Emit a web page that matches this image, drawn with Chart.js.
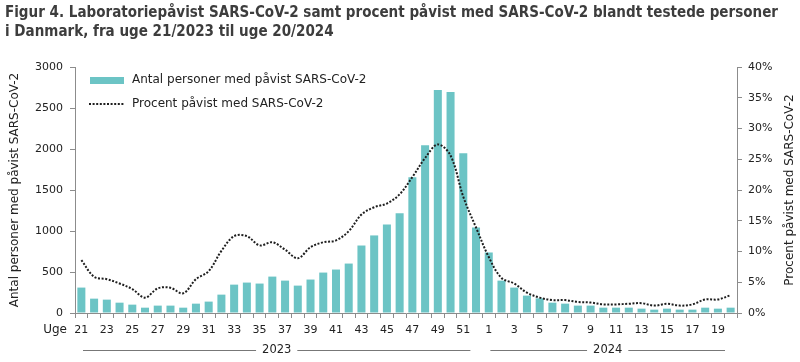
<!DOCTYPE html>
<html>
<head>
<meta charset="utf-8">
<script src="https://cdn.jsdelivr.net/npm/chart.js@4"></script>
<style>
  body { margin: 0; background: #fff; }
  #wrap { width: 800px; height: 362px; }
</style>
</head>
<body>
<div id="wrap"><canvas id="myChart" width="800" height="362"></canvas></div>
<script>
// uge 21-52 i 2023, uge 1-20 i 2024
const weeks2023 = ['21','22','23','24','25','26','27','28','29','30','31','32','33','34','35','36',
  '37','38','39','40','41','42','43','44','45','46','47','48','49','50','51','52'];
const weeks2024 = ['1','2','3','4','5','6','7','8','9','10','11','12','13','14','15','16','17','18','19','20'];
const labels = weeks2023.concat(weeks2024);

const positive = [310, 175, 163, 126, 102, 65, 90, 90, 65, 114, 139, 224, 346, 371, 359, 444,
  395, 334, 408, 493, 530, 603, 823, 946, 1080, 1215, 1655, 2046, 2719, 2694, 1948, 1043,
  738, 395, 310, 212, 179, 126, 114, 90, 90, 65, 65, 65, 53, 41, 53, 41, 41, 65, 53, 65];

const percent = [8.6, 5.9, 5.5, 4.8, 3.9, 2.5, 4.0, 4.1, 3.2, 5.5, 6.8, 10.1, 12.5, 12.5, 11.0, 11.5,
  10.3, 8.9, 10.7, 11.5, 11.8, 13.3, 16.0, 17.2, 17.8, 19.3, 22.1, 25.2, 27.4, 25.6, 18.9, 13.9,
  9.1, 5.7, 4.8, 3.3, 2.5, 2.1, 2.1, 1.8, 1.7, 1.4, 1.4, 1.5, 1.6, 1.2, 1.5, 1.2, 1.4, 2.2, 2.2, 2.9];

const years = [
  { label: '2023', count: weeks2023.length },
  { label: '2024', count: weeks2024.length }
];

const titleLines = [
  'Figur 4. Laboratoriepåvist SARS-CoV-2 samt procent påvist med SARS-CoV-2 blandt testede personer',
  'i Danmark, fra uge 21/2023 til uge 20/2024'
];
const rightTitle = 'Procent påvist med SARS-CoV-2';

const teal = '#6cc4c5';
const dark = '#222222';
const axisGray = '#8c8c8c';
const fontFam = "'DejaVu Sans', sans-serif";

// title, legend, "Uge", right axis title and year brackets
const extras = {
  id: 'extras',
  afterDraw(chart) {
    const ctx = chart.ctx;
    const x = chart.scales.x;
    const area = chart.chartArea;
    ctx.save();

    // title, squeezed to the reference width
    ctx.fillStyle = '#3d3d3d';
    ctx.font = 'bold 16px ' + fontFam;
    ctx.textBaseline = 'alphabetic';
    ctx.textAlign = 'left';
    const w = ctx.measureText(titleLines[0]).width;
    const sx = Math.min(1, 773 / w);
    ctx.save();
    ctx.translate(5, 0);
    ctx.scale(sx, 1);
    ctx.fillText(titleLines[0], 0, 17);
    ctx.fillText(titleLines[1], 0, 36);
    ctx.restore();

    // legend
    const ds = chart.data.datasets;
    ctx.font = '12px ' + fontFam;
    ctx.textBaseline = 'middle';
    ctx.fillStyle = ds[0].backgroundColor;
    ctx.fillRect(90, 77, 34, 7);
    ctx.fillStyle = dark;
    ctx.fillText(ds[0].label, 132, 80);
    ctx.strokeStyle = ds[1].borderColor;
    ctx.lineWidth = 2;
    ctx.setLineDash(ds[1].borderDash);
    ctx.beginPath();
    ctx.moveTo(89, 104);
    ctx.lineTo(124, 104);
    ctx.stroke();
    ctx.setLineDash([]);
    ctx.fillText(ds[1].label, 132, 104);

    // right axis title, reading upwards like the left one
    ctx.save();
    ctx.translate(790, (area.top + area.bottom) / 2);
    ctx.rotate(-Math.PI / 2);
    ctx.textAlign = 'center';
    ctx.fillText(rightTitle, 0, 0);
    ctx.restore();

    // "Uge"
    ctx.textAlign = 'right';
    ctx.fillText('Uge', 67, 330);

    // years under the weeks
    const step = (x.right - x.left) / labels.length;
    let start = 0;
    ctx.font = '11.5px ' + fontFam;
    ctx.textAlign = 'center';
    ctx.strokeStyle = '#777';
    ctx.lineWidth = 1;
    years.forEach(yr => {
      const x0 = x.left + start * step + 8;
      const x1 = x.left + (start + yr.count) * step - 12;
      const cx = (x0 + x1) / 2;
      const half = ctx.measureText(yr.label).width / 2 + 6;
      const yy = 350.5;
      ctx.beginPath();
      ctx.moveTo(x0, yy); ctx.lineTo(cx - half, yy);
      ctx.moveTo(cx + half, yy); ctx.lineTo(x1, yy);
      ctx.stroke();
      ctx.fillStyle = dark;
      ctx.fillText(yr.label, cx, yy);
      start += yr.count;
    });
    ctx.restore();
  }
};

const ctx = document.getElementById('myChart');
const myChart = new Chart(ctx, {
  type: 'bar',
  data: {
    labels: labels,
    datasets: [{
      type: 'bar',
      label: 'Antal personer med påvist SARS-CoV-2',
      data: positive,
      backgroundColor: teal,
      barPercentage: 0.63,
      categoryPercentage: 1,
      yAxisID: 'y',
      order: 1
    }, {
      type: 'line',
      label: 'Procent påvist med SARS-CoV-2',
      data: percent,
      borderColor: '#1e1e1e',
      borderWidth: 2,
      borderDash: [2, 1.6],
      pointRadius: 0,
      tension: 0.35,
      fill: false,
      yAxisID: 'y1',
      order: 0
    }]
  },
  options: {
    responsive: false,
    animation: false,
    layout: { padding: { top: 67 } },
    scales: {
      x: {
        afterFit: (s) => { s.height = 49; },
        grid: { drawOnChartArea: false, tickLength: 5, color: axisGray, offset: true },
        border: { color: axisGray },
        ticks: {
          autoSkip: false,
          maxRotation: 0,
          padding: 6,
          color: dark,
          font: { family: fontFam, size: 11 },
          callback: function (v, i) { return i % 2 === 0 ? labels[i] : ''; }
        }
      },
      y: {
        position: 'left',
        min: 0, max: 3000,
        afterFit: (s) => { s.width = 75; },
        grid: { drawOnChartArea: false, tickLength: 5, color: axisGray },
        border: { color: axisGray },
        ticks: {
          stepSize: 500, padding: 7, color: dark,
          font: { family: fontFam, size: 11 },
          callback: (v) => String(v)
        },
        title: {
          display: true,
          text: 'Antal personer med påvist SARS-CoV-2',
          color: dark,
          padding: { top: 8, bottom: 0 },
          font: { family: fontFam, size: 12 }
        }
      },
      y1: {
        position: 'right',
        min: 0, max: 40,
        afterFit: (s) => { s.width = 63; },
        grid: { drawOnChartArea: false, tickLength: 5, color: axisGray },
        border: { color: axisGray },
        ticks: {
          stepSize: 5, padding: 6, color: dark,
          font: { family: fontFam, size: 11 },
          callback: (v) => v + '%'
        }
      }
    },
    plugins: {
      legend: { display: false },
      tooltip: { enabled: false }
    }
  },
  plugins: [extras]
});
</script>
</body>
</html>
